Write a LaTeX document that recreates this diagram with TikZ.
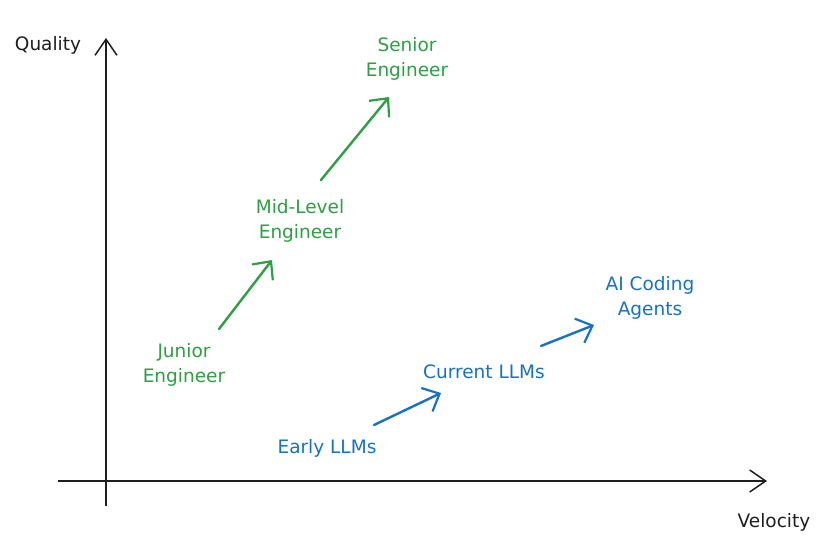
\documentclass[tikz,border=0pt]{standalone}
\usepackage{fontspec}
\setmainfont{DejaVu Sans}
\usetikzlibrary{arrows.meta}
\definecolor{exgreen}{HTML}{2F9E44}
\definecolor{exblue}{HTML}{1971C2}
\definecolor{exblack}{HTML}{1E1E1E}
\tikzset{
  lbl/.style={font=\fontsize{18.5}{25.5}\selectfont, align=center, inner sep=1pt},
  glbl/.style={lbl, text=exgreen},
  blbl/.style={lbl, text=exblue},
  axis/.style={draw=exblack, line width=1.8pt, -{Straight Barb[length=16pt,width=22pt,line width=1.5pt]}},
  garrow/.style={draw=exgreen, line width=2.4pt, line cap=round, -{Straight Barb[length=14pt,width=26pt,line width=2.2pt]}},
  barrow/.style={draw=exblue, line width=2.4pt, line cap=round, -{Straight Barb[length=14pt,width=26pt,line width=2.2pt]}},
}
\begin{document}
\begin{tikzpicture}[x=1pt,y=-1pt]
\useasboundingbox[fill=white] (0,0) rectangle (835,551);
% axes
\coordinate (yb) at (106,506);
\coordinate (yt) at (106,38);
\coordinate (xl) at (58,481);
\coordinate (xr) at (767,481);
\draw[axis] (yb) -- (yt);
\draw[axis] (xl) -- (xr);
\node[lbl, text=exblack] (quality) at (48,45) {Quality};
\node[lbl, text=exblack] (velocity) at (774,522) {Velocity};
% engineers
\node[glbl] (senior) at (407,59) {Senior\\Engineer};
\node[glbl] (mid) at (300,221) {Mid-Level\\Engineer};
\node[glbl] (junior) at (184,365) {Junior\\Engineer};
\coordinate (j1) at (219,329);
\coordinate (j2) at (272,260);
\coordinate (m1) at (321,180);
\coordinate (m2) at (389,97);
\draw[garrow] (j1) -- (j2);
\draw[garrow] (m1) -- (m2);
% LLMs
\node[blbl] (early) at (327,448) {Early LLMs};
\node[blbl] (current) at (484,372) {Current LLMs};
\node[blbl] (agents) at (650,298) {AI Coding\\Agents};
\coordinate (e1) at (374,425);
\coordinate (e2) at (441,393);
\coordinate (c1) at (541,346);
\coordinate (c2) at (594,325);
\draw[barrow] (e1) -- (e2);
\draw[barrow] (c1) -- (c2);
\end{tikzpicture}
\end{document}
